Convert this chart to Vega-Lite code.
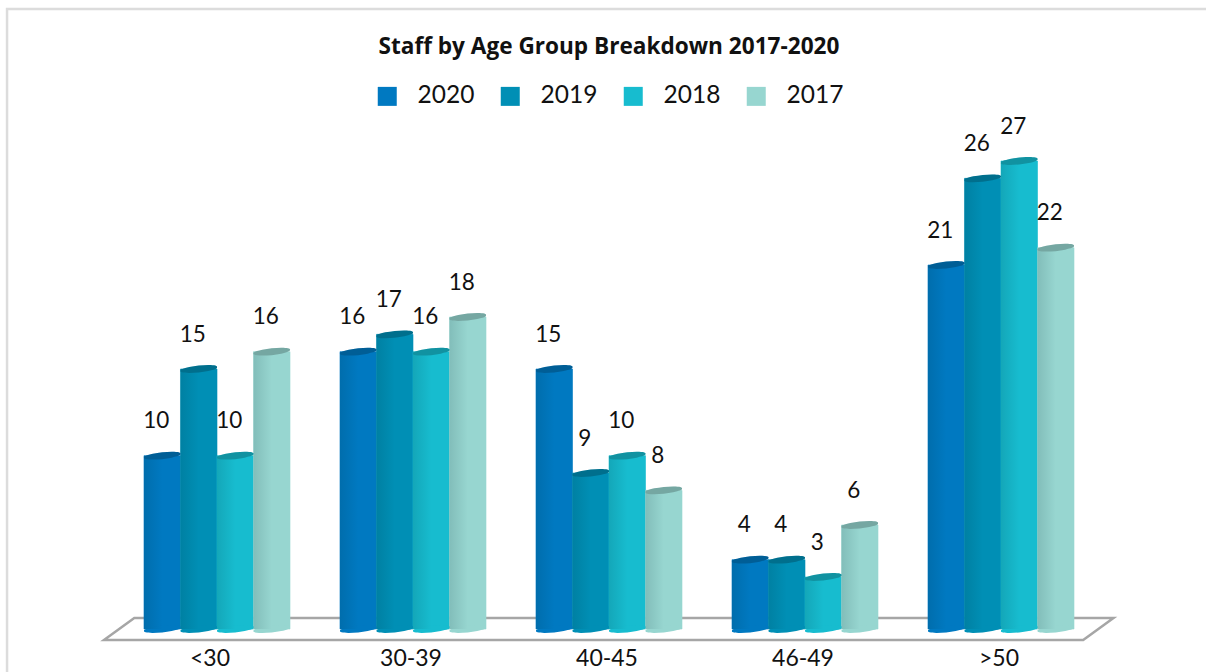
{
  "$schema": "https://vega.github.io/schema/vega-lite/v6.json",
  "width": 980,
  "height": 520,
  "autosize": "none",
  "padding": {"left": 119, "top": 109, "right": 107, "bottom": 43},
  "background": "white",
  "title": {
    "text": "Staff by Age Group Breakdown 2017-2020",
    "font": "Open Sans",
    "fontSize": 22.6,
    "fontWeight": 700,
    "color": "#111111",
    "anchor": "middle",
    "offset": -55
  },
  "config": {
    "view": {"stroke": null},
    "font": "Lato"
  },
  "data": {
    "values": [
      {"group": "<30", "year": "2020", "staff": 10},
      {"group": "<30", "year": "2019", "staff": 15},
      {"group": "<30", "year": "2018", "staff": 10},
      {"group": "<30", "year": "2017", "staff": 16},
      {"group": "30-39", "year": "2020", "staff": 16},
      {"group": "30-39", "year": "2019", "staff": 17},
      {"group": "30-39", "year": "2018", "staff": 16},
      {"group": "30-39", "year": "2017", "staff": 18},
      {"group": "40-45", "year": "2020", "staff": 15},
      {"group": "40-45", "year": "2019", "staff": 9},
      {"group": "40-45", "year": "2018", "staff": 10},
      {"group": "40-45", "year": "2017", "staff": 8},
      {"group": "46-49", "year": "2020", "staff": 4},
      {"group": "46-49", "year": "2019", "staff": 4},
      {"group": "46-49", "year": "2018", "staff": 3},
      {"group": "46-49", "year": "2017", "staff": 6},
      {"group": ">50", "year": "2020", "staff": 21},
      {"group": ">50", "year": "2019", "staff": 26},
      {"group": ">50", "year": "2018", "staff": 27},
      {"group": ">50", "year": "2017", "staff": 22}
    ]
  },
  "encoding": {
    "x": {
      "field": "group",
      "type": "nominal",
      "sort": ["<30", "30-39", "40-45", "46-49", ">50"],
      "scale": {"paddingInner": 0.255, "paddingOuter": 0.1275},
      "axis": {
        "title": null,
        "domain": false,
        "ticks": false,
        "labelAngle": 0,
        "labelFont": "Lato",
        "labelFontSize": 23,
        "labelColor": "#111111",
        "labelPadding": 18,
        "labelOffset": {"condition": {"test": "datum.value === '<30'", "value": -7}, "value": -2}
      }
    },
    "y": {
      "field": "staff",
      "type": "quantitative",
      "scale": {"domain": [0, 30], "nice": false},
      "axis": null
    }
  },
  "layer": [
    {
      "transform": [{"filter": "datum.group === '40-45' && datum.year === '2020'"}],
      "mark": {
        "type": "point",
        "filled": false,
        "opacity": 1,
        "size": 1020100,
        "strokeWidth": 2.5,
        "stroke": "#dcdcdc",
        "shape": "M-1.192,0.3 L-1.192,-1.2277 L1.3,-1.2277"
      },
      "encoding": {"y": {"datum": 0, "type": "quantitative"}}
    },
    {
      "transform": [{"filter": "datum.group === '40-45' && datum.year === '2020'"}],
      "mark": {
        "type": "point",
        "filled": false,
        "opacity": 1,
        "size": 1020100,
        "strokeWidth": 2.5,
        "stroke": "#a6a6a6",
        "shape": "M-1,0.0218 L0.939,0.0218 L0.999,-0.0218 L-0.94,-0.0218 Z"
      },
      "encoding": {"y": {"datum": 0, "type": "quantitative"}}
    },
    {
      "mark": {"type": "bar", "strokeWidth": 0.6},
      "encoding": {
        "xOffset": {"field": "year", "type": "nominal", "sort": ["2020", "2019", "2018", "2017"], "scale": {"padding": 0}},
        "stroke": {
          "field": "year",
          "type": "nominal",
          "scale": {
            "domain": ["2020", "2019", "2018", "2017"],
            "range": ["#0079c1", "#008fb5", "#17bccf", "#97d6d0"]
          },
          "legend": null
        },
        "color": {
          "field": "year",
          "type": "nominal",
          "scale": {
            "domain": ["2020", "2019", "2018", "2017"],
            "range": ["#0079c1", "#008fb5", "#17bccf", "#97d6d0"]
          },
          "legend": {
            "title": null,
            "orient": "none",
            "legendX": 256,
            "legendY": -25,
            "direction": "horizontal",
            "columns": 4,
            "columnPadding": 23,
            "symbolType": "square",
            "symbolSize": 361,
            "symbolStrokeWidth": 0,
            "symbolOpacity": 1,
            "labelFont": "Lato",
            "labelFontSize": 24.5,
            "labelColor": "#111111",
            "labelOffset": 18
          }
        }
      }
    },
    {
      "mark": {"type": "point", "filled": true, "opacity": 1, "size": 1332, "strokeWidth": 0,
        "shape": "M-1,0.1 A1.01,0.17,-6,1,1,1,-0.1 A1.01,0.17,-6,1,1,-1,0.1 Z"},
      "encoding": {
        "y": {"datum": 0, "type": "quantitative"},
        "xOffset": {"field": "year", "type": "nominal", "sort": ["2020", "2019", "2018", "2017"], "scale": {"padding": 0}},
        "color": {"field": "year", "type": "nominal"}
      }
    },
    {
      "mark": {
        "type": "bar",
        "color": {
          "gradient": "linear",
          "x1": 0, "y1": 0, "x2": 1, "y2": 0,
          "stops": [
            {"offset": 0, "color": "rgba(0,40,50,0.14)"},
            {"offset": 0.5, "color": "rgba(0,40,50,0)"}
          ]
        }
      },
      "encoding": {
        "xOffset": {"field": "year", "type": "nominal", "sort": ["2020", "2019", "2018", "2017"], "scale": {"padding": 0}}
      }
    },
    {
      "mark": {"type": "point", "filled": true, "opacity": 1, "size": 1332, "strokeWidth": 0,
        "shape": "M-1,0.1 A1.01,0.17,-6,1,1,1,-0.1 A1.01,0.17,-6,1,1,-1,0.1 Z"},
      "encoding": {
        "xOffset": {"field": "year", "type": "nominal", "sort": ["2020", "2019", "2018", "2017"], "scale": {"padding": 0}},
        "color": {"field": "year", "type": "nominal"}
      }
    },
    {
      "mark": {"type": "point", "filled": true, "opacity": 0.22, "color": "#000000", "size": 1332, "strokeWidth": 0,
        "shape": "M-1,0.1 A1.01,0.17,-6,1,1,1,-0.1 A1.01,0.17,-6,1,1,-1,0.1 Z"},
      "encoding": {
        "xOffset": {"field": "year", "type": "nominal", "sort": ["2020", "2019", "2018", "2017"], "scale": {"padding": 0}}
      }
    },
    {
      "mark": {"type": "text", "font": "Lato", "fontSize": 22.5, "color": "#111111", "dy": -34.5, "dx": -6},
      "encoding": {
        "xOffset": {"field": "year", "type": "nominal", "sort": ["2020", "2019", "2018", "2017"], "scale": {"padding": 0}},
        "text": {"field": "staff", "type": "quantitative"}
      }
    }
  ]
}
